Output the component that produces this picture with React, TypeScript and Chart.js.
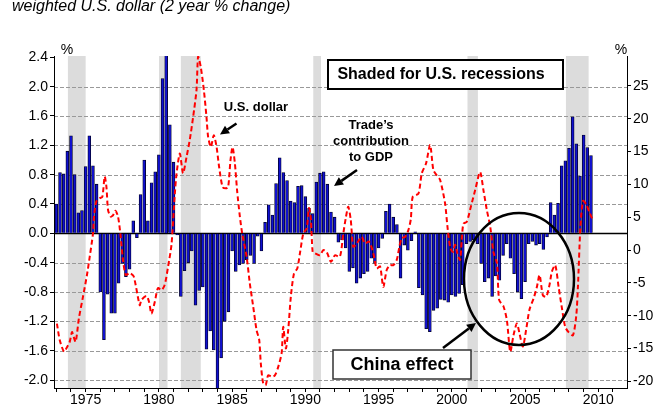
import React, { useEffect, useRef } from 'react';
import { Chart, registerables } from 'chart.js';

Chart.register(...registerables);

const FONT = '"Liberation Sans", Arial, Helvetica, sans-serif';
const TITLE_TEXT = 'weighted U.S. dollar (2 year % change)';

// Quarterly bars, first bar = 1973 Q1 (left axis, %)
const barStartYear = 1973;
const tradeContribution = [
  0.40, 0.83, 0.81, 1.12, 1.33, 0.80, 0.28, 0.31, 0.91, 1.33, 0.92, 0.67,
  -0.80, -1.45, -0.83, -1.09, -1.09, -0.68, -0.41, -0.59, -0.49, 0.17, -0.06, 0.53,
  1.00, 0.17, 0.69, 0.84, 1.07, 2.11, 2.45, 1.48, 0.97, -0.02, -0.86, -0.51,
  -0.40, -0.24, -0.98, -0.78, -0.73, -1.58, -1.33, -1.59, -2.20, -1.70, -1.20, -1.07,
  -0.24, -0.52, -0.43, -0.41, -0.36, -0.30, -0.41, -0.04, -0.24, 0.15, 0.39, 0.25,
  0.68, 1.03, 0.83, 0.72, 0.44, 0.42, 0.64, 0.65, 0.50, 0.34, 0.27, 0.70,
  0.82, 0.84, 0.67, 0.29, 0.22, -0.12, -0.09, -0.20, -0.52, -0.47, -0.68, -0.61,
  -0.55, -0.52, -0.34, -0.41, -0.20, -0.07, 0.30, 0.40, 0.22, 0.12, -0.61, -0.16,
  -0.23, -0.10, 0.02, -0.74, -0.84, -1.30, -1.34, -1.05, -1.02, -0.90, -0.91, -0.94,
  -0.84, -0.86, -0.82, -0.70, -0.14, -0.11, -0.09, -0.14, -0.41, -0.66, -0.61, -0.86,
  -0.58, -0.64, -0.30, -0.14, -0.34, -0.55, -0.80, -0.89, -0.66, -0.14, -0.11, -0.16,
  -0.14, -0.22, -0.05, 0.42, 0.25, 0.41, 0.92, 0.99, 1.16, 1.59, 1.22, 0.78,
  1.34, 1.17, 1.06,
];

// Trade-weighted U.S. dollar, 2-year % change (right axis): [year, value]
const usdDollar: [number, number][] = [
  [1973.04, -11.2], [1973.23, -13.7], [1973.52, -15.5], [1973.68, -15.0], [1973.91, -14.0],
  [1974.07, -12.5], [1974.18, -13.2], [1974.32, -14.0], [1974.54, -10.4], [1974.82, -7.1],
  [1975.09, -3.8], [1975.28, -1.0], [1975.50, 2.5], [1975.57, 5.1], [1975.73, 7.4],
  [1975.96, 7.9], [1976.14, 8.1], [1976.30, 11.2], [1976.42, 9.6], [1976.53, 6.1],
  [1976.71, 5.1], [1976.87, 5.3], [1977.03, 6.0], [1977.21, 5.1], [1977.37, 2.5],
  [1977.55, -1.5], [1977.74, -3.8], [1978.01, -3.5], [1978.28, -4.0], [1978.69, -8.4],
  [1978.81, -7.6], [1979.15, -7.0], [1979.33, -7.9], [1979.49, -9.7], [1979.72, -7.9],
  [1979.94, -5.8], [1980.18, -6.1], [1980.40, -5.3], [1980.63, -2.5], [1980.86, 0.8],
  [1981.09, 8.6], [1981.20, 11.5], [1981.43, 14.7], [1981.65, 11.7], [1981.89, 14.2],
  [1982.11, 16.8], [1982.34, 20.3], [1982.57, 24.4], [1982.68, 29.5], [1982.86, 27.9],
  [1983.07, 24.4], [1983.25, 20.3], [1983.36, 17.3], [1983.55, 15.7], [1983.75, 17.5],
  [1983.94, 15.7], [1984.11, 12.7], [1984.35, 9.6], [1984.57, 9.4], [1984.73, 9.6],
  [1984.89, 13.7], [1985.03, 15.7], [1985.19, 13.2], [1985.34, 9.1], [1985.53, 5.1],
  [1985.69, 2.5], [1985.99, -1.0], [1986.21, -5.1], [1986.44, -8.6], [1986.67, -12.2],
  [1986.85, -13.7], [1986.96, -17.3], [1987.12, -20.3], [1987.29, -20.6], [1987.46, -19.1],
  [1987.70, -19.3], [1987.92, -19.1], [1988.15, -17.8], [1988.38, -15.7], [1988.49, -11.7],
  [1988.67, -15.0], [1988.83, -12.2], [1989.01, -7.1], [1989.22, -3.6], [1989.45, -2.8],
  [1989.63, -0.5], [1989.86, 2.5], [1990.09, 3.3], [1990.25, 6.4], [1990.38, 4.6],
  [1990.50, -0.3], [1990.66, -0.5], [1991.00, -0.8], [1991.22, 0.0], [1991.46, -0.3],
  [1991.75, -1.8], [1992.02, -0.8], [1992.36, -1.0], [1992.59, 2.5], [1992.77, 5.0],
  [1992.93, 6.6], [1993.10, 4.6], [1993.27, 0.5], [1993.51, 1.0], [1993.85, 2.0],
  [1994.07, 1.0], [1994.35, 1.3], [1994.64, -0.5], [1994.87, -2.8], [1995.10, -2.5],
  [1995.32, -5.6], [1995.56, -3.0], [1995.78, -2.3], [1996.01, -2.3], [1996.24, -1.5],
  [1996.42, 0.5], [1996.58, 1.8], [1996.81, 2.0], [1997.03, 3.0], [1997.20, 4.7],
  [1997.33, 8.1], [1997.72, 8.6], [1997.95, 11.7], [1998.24, 13.2], [1998.52, 16.0],
  [1998.74, 12.2], [1998.97, 11.4], [1999.20, 10.7], [1999.54, 7.1], [1999.70, 3.6],
  [1999.88, 0.5], [2000.07, -0.3], [2000.22, 0.8], [2000.38, -0.5], [2000.56, -1.5],
  [2000.68, 1.5], [2000.79, 4.0], [2001.02, 4.3], [2001.30, 6.6], [2001.59, 9.1],
  [2001.93, 11.9], [2002.16, 9.1], [2002.39, 6.1], [2002.62, 3.6], [2002.84, -0.3],
  [2003.08, -2.0], [2003.23, -7.6], [2003.53, -8.6], [2003.76, -10.7], [2003.99, -15.5],
  [2004.21, -13.0], [2004.44, -11.2], [2004.62, -12.7], [2004.85, -14.7], [2005.07, -12.2],
  [2005.30, -9.1], [2005.58, -7.4], [2005.81, -5.6], [2005.99, -3.8], [2006.22, -6.9],
  [2006.45, -7.1], [2006.67, -5.3], [2006.83, -3.3], [2007.06, -2.3], [2007.29, -5.6],
  [2007.52, -8.9], [2007.74, -11.7], [2007.97, -12.5], [2008.27, -13.0], [2008.50, -9.9],
  [2008.61, -5.6], [2008.78, 3.6], [2008.96, 7.5], [2009.19, 6.9], [2009.42, 5.6],
  [2009.58, 4.8],
];

// U.S. recessions (shaded), [start, end] in years
const recessions: [number, number][] = [
  [1973.79, 1975.0],
  [1980.01, 1980.59],
  [1981.5, 1982.86],
  [1990.54, 1991.07],
  [2001.07, 2001.78],
  [2007.79, 2009.34],
];

function drawArrow(ctx: any, x1: number, y1: number, x2: number, y2: number) {
  const ang = Math.atan2(y2 - y1, x2 - x1);
  const hl = 9;
  const hw = 4.5;
  const bx = x2 - hl * Math.cos(ang);
  const by = y2 - hl * Math.sin(ang);
  ctx.beginPath();
  ctx.moveTo(x1, y1);
  ctx.lineTo(bx, by);
  ctx.lineWidth = 2.5;
  ctx.strokeStyle = '#000';
  ctx.stroke();
  ctx.beginPath();
  ctx.moveTo(x2, y2);
  ctx.lineTo(bx + hw * Math.sin(ang), by - hw * Math.cos(ang));
  ctx.lineTo(bx - hw * Math.sin(ang), by + hw * Math.cos(ang));
  ctx.closePath();
  ctx.fillStyle = '#000';
  ctx.fill();
}

export default function App() {
  const ref = useRef<HTMLCanvasElement>(null);

  useEffect(() => {
    const canvas = ref.current;
    if (!canvas) return;

    const barData = tradeContribution.map((v, i) => ({ x: barStartYear + i * 0.25, y: v }));
    const lineData = usdDollar.map(([x, y]) => ({ x, y }));

    const decor = {
      id: 'decor',
      beforeDraw(chart: any) {
        const { ctx, chartArea: a, scales } = chart;
        ctx.save();
        ctx.fillStyle = '#ffffff';
        ctx.fillRect(0, 0, chart.width, chart.height);
        ctx.fillStyle = '#DCDCDC';
        for (const [s, e] of recessions) {
          const x1 = scales.x.getPixelForValue(s);
          const x2 = scales.x.getPixelForValue(e);
          ctx.fillRect(x1, a.top, x2 - x1, a.bottom - a.top);
        }
        ctx.strokeStyle = '#999999';
        ctx.lineWidth = 1;
        ctx.setLineDash([4, 2]);
        for (const t of scales.y.ticks) {
          if (Math.abs(t.value) < 1e-9 || t.value > 2.3) continue;
          const y = Math.round(scales.y.getPixelForValue(t.value)) + 0.5;
          ctx.beginPath();
          ctx.moveTo(a.left, y);
          ctx.lineTo(a.right, y);
          ctx.stroke();
        }
        ctx.restore();
      },
      beforeDatasetsDraw(chart: any) {
        const { ctx, chartArea: a, scales } = chart;
        const y = Math.round(scales.y.getPixelForValue(0)) + 0.5;
        ctx.save();
        ctx.strokeStyle = '#000';
        ctx.lineWidth = 1.5;
        ctx.beginPath();
        ctx.moveTo(a.left, y);
        ctx.lineTo(a.right, y);
        ctx.stroke();
        ctx.restore();
      },
      afterDraw(chart: any) {
        const ctx = chart.ctx;
        ctx.save();
        // title (partially cut at top)
        ctx.fillStyle = '#000';
        ctx.textAlign = 'left';
        ctx.textBaseline = 'alphabetic';
        ctx.font = `italic 16px ${FONT}`;
        ctx.fillText(TITLE_TEXT, 12, 11);

        // % labels
        ctx.font = `14px ${FONT}`;
        ctx.textAlign = 'center';
        ctx.textBaseline = 'middle';
        ctx.fillText('%', 67, 50);
        ctx.fillText('%', 621, 50);

        // recession box
        ctx.fillStyle = '#fff';
        ctx.fillRect(328, 60, 235, 29);
        ctx.strokeStyle = '#000';
        ctx.lineWidth = 2;
        ctx.strokeRect(328, 60, 235, 29);
        ctx.fillStyle = '#000';
        ctx.font = `bold 16px ${FONT}`;
        ctx.fillText('Shaded for U.S. recessions', 441, 75);

        // U.S. dollar label
        ctx.font = `bold 13px ${FONT}`;
        ctx.fillText('U.S. dollar', 256, 107);
        drawArrow(ctx, 236.5, 123.5, 220, 134.5);

        // Trade's contribution label
        ctx.fillStyle = '#000';
        ctx.font = `bold 13px ${FONT}`;
        ctx.textAlign = 'center';
        ctx.textBaseline = 'middle';
        ctx.fillText('Trade\u2019s', 371, 125);
        ctx.fillText('contribution', 371, 141);
        ctx.fillText('to GDP', 371, 157);
        drawArrow(ctx, 357, 170, 334, 186);

        // ellipse
        ctx.beginPath();
        ctx.ellipse(519, 279, 55, 66, 0, 0, Math.PI * 2);
        ctx.lineWidth = 2.5;
        ctx.strokeStyle = '#000';
        ctx.stroke();

        // China effect box
        ctx.fillStyle = '#fff';
        ctx.fillRect(333, 350, 138, 29);
        ctx.strokeStyle = '#333';
        ctx.lineWidth = 1.5;
        ctx.strokeRect(333, 350, 138, 29);
        ctx.fillStyle = '#000';
        ctx.font = `bold 18px ${FONT}`;
        ctx.textAlign = 'center';
        ctx.textBaseline = 'middle';
        ctx.fillText('China effect', 402, 365);
        drawArrow(ctx, 443, 348, 476, 323);
        ctx.restore();
      },
    };

    const chart = new Chart(canvas, {
      type: 'bar',
      data: {
        datasets: [
          {
            type: 'line',
            label: 'U.S. dollar',
            data: lineData,
            xAxisID: 'x',
            yAxisID: 'y1',
            borderColor: '#FF0000',
            borderWidth: 2,
            borderDash: [5, 3],
            pointRadius: 0,
            tension: 0.25,
            fill: false,
            order: 0,
          } as any,
          {
            type: 'bar',
            label: 'Trade\u2019s contribution to GDP',
            data: barData,
            xAxisID: 'x',
            yAxisID: 'y',
            backgroundColor: '#1010D0',
            borderColor: '#000022',
            borderWidth: 0.8,
            barThickness: 2.9,
            order: 1,
          } as any,
        ],
      },
      options: {
        responsive: false,
        animation: false,
        layout: { padding: { top: 56, left: 0, right: 0, bottom: 0 } },
        plugins: {
          legend: { display: false },
          tooltip: { enabled: false },
          title: { display: false },
        },
        scales: {
          x: {
            type: 'linear',
            min: 1972.84,
            max: 2011.96,
            offset: false,
            grid: { offset: false, drawOnChartArea: false, drawTicks: true, tickLength: 4, tickColor: '#000', color: '#000' },
            border: { display: true, color: '#000', width: 1 },
            ticks: {
              stepSize: 1,
              includeBounds: false,
              autoSkip: false,
              maxRotation: 0,
              padding: 0,
              color: '#000',
              font: { family: FONT, size: 14 },
              callback: (v: any) => (Math.round(v) % 5 === 0 ? String(Math.round(v)) : ''),
            },
            afterFit: (s: any) => { s.height = 18; },
          } as any,
          y: {
            position: 'left',
            min: -2.109,
            max: 2.418,
            grid: { drawOnChartArea: false, drawTicks: true, tickLength: 4, tickColor: '#000', color: '#000' },
            border: { display: true, color: '#000', width: 1 },
            ticks: {
              stepSize: 0.4,
              includeBounds: false,
              padding: 2,
              color: '#000',
              font: { family: FONT, size: 14 },
              callback: (v: any) => Number(v).toFixed(1),
            },
            afterFit: (s: any) => { s.width = 54; },
          } as any,
          y1: {
            position: 'right',
            min: -21.02,
            max: 29.57,
            grid: { drawOnChartArea: false, drawTicks: true, tickLength: 4, tickColor: '#000', color: '#000' },
            border: { display: true, color: '#000', width: 1 },
            ticks: {
              stepSize: 5,
              includeBounds: false,
              padding: 2,
              color: '#000',
              font: { family: FONT, size: 14 },
              callback: (v: any) => String(Math.round(v)),
            },
            afterFit: (s: any) => { s.width = 29; },
          } as any,
        },
      },
      plugins: [decor],
    });

    return () => chart.destroy();
  }, []);

  return (
    <div style={{ position: 'fixed', left: 0, top: 0, width: 656, height: 406, background: '#fff' }}>
      <canvas ref={ref} width={656} height={406} style={{ display: 'block', width: 656, height: 406 }} />
    </div>
  );
}
